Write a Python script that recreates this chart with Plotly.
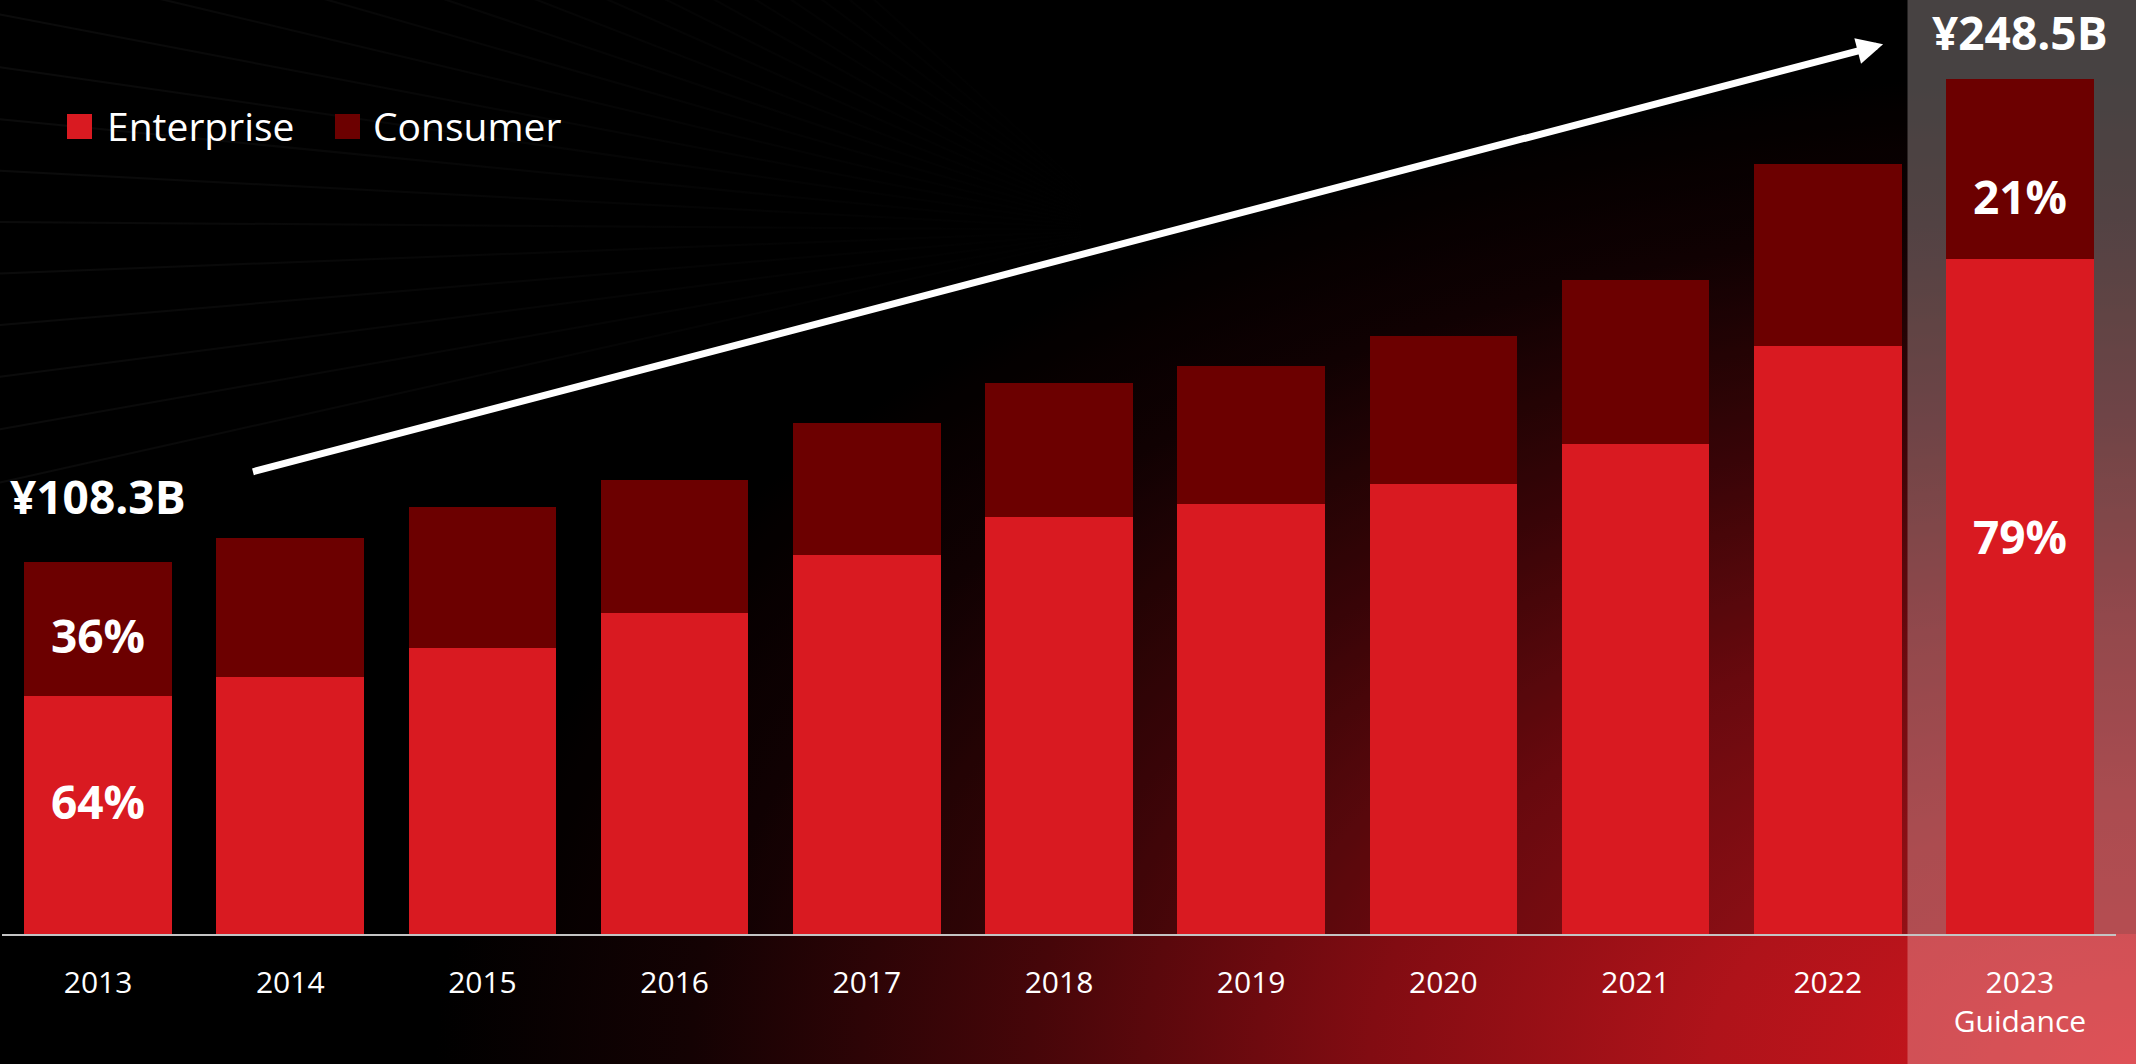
import base64
import math
import plotly.graph_objects as go

# ---------------- data ----------------
years = ["2013", "2014", "2015", "2016", "2017", "2018", "2019", "2020", "2021", "2022", "2023"]
tick_text = ["2013", "2014", "2015", "2016", "2017", "2018", "2019", "2020", "2021", "2022", "2023<br>Guidance"]
enterprise = [69.3, 74.7, 83.1, 93.3, 110.2, 121.3, 124.9, 131.0, 142.5, 171.0, 196.3]
consumer = [39.0, 40.4, 41.1, 38.7, 38.5, 38.9, 40.4, 43.0, 47.8, 52.8, 52.2]
total_labels = {"2013": "¥108.3B", "2023": "¥248.5B"}
share_labels = {"2013": ("64%", "36%"), "2023": ("79%", "21%")}
series_names = ["Enterprise", "Consumer"]

ENT_COLOR = "#d91a21"
CON_COLOR = "#6c0000"
FONT = "Open Sans, Noto Sans, DejaVu Sans, sans-serif"

W, H = 2136, 1064
ML, MR, MT, MB = 2, 20, 0, 130
PW, PH = W - ML - MR, H - MT - MB
Y_MAX = 271.6
BASE_PX = H - MB


def px_x(px):
    return (px - ML) / PW


def px_y(py):
    return (H - MB - py) / PH


# ---------------- background (decorative svg) ----------------
lines = []
vx, vy = 1130, 230
for i in range(22):
    ang = math.radians(-42 + i * 2.6)
    ex = vx - 1600 * math.cos(ang)
    ey = vy + 1600 * math.sin(ang)
    lines.append(f'<line x1="{vx}" y1="{vy}" x2="{ex:.1f}" y2="{ey:.1f}" stroke="url(#fade)" stroke-width="2"/>')

svg = f'''<svg xmlns="http://www.w3.org/2000/svg" width="{W}" height="{H}" viewBox="0 0 {W} {H}" preserveAspectRatio="none">
<defs>
<radialGradient id="glow" gradientUnits="userSpaceOnUse" cx="{W}" cy="{H}" r="1000"
 gradientTransform="translate({W} {H}) scale(1.7 1.0) translate(-{W} -{H})">
<stop offset="0" stop-color="#d2161e"/>
<stop offset="0.25" stop-color="#af131a"/>
<stop offset="0.45" stop-color="#820c12"/>
<stop offset="0.65" stop-color="#460609"/>
<stop offset="0.85" stop-color="#140203"/>
<stop offset="1" stop-color="#000000"/>
</radialGradient>
<linearGradient id="fade" gradientUnits="userSpaceOnUse" x1="0" y1="0" x2="{vx}" y2="0">
<stop offset="0" stop-color="#ffffff" stop-opacity="0.045"/>
<stop offset="1" stop-color="#ffffff" stop-opacity="0"/>
</linearGradient>
</defs>
<rect width="{W}" height="{H}" fill="#000000"/>
<rect width="{W}" height="{H}" fill="url(#glow)"/>
<rect width="{W}" height="{BASE_PX}" fill="#000000" fill-opacity="0.2"/>
{''.join(lines)}
</svg>'''
svg_uri = "data:image/svg+xml;base64," + base64.b64encode(svg.encode("utf-8")).decode("ascii")

# ---------------- figure ----------------
fig = go.Figure()
fig.add_trace(go.Bar(x=years, y=enterprise, name=series_names[0], marker=dict(color=ENT_COLOR, line=dict(width=0)),
                     hoverinfo="x+y+name"))
fig.add_trace(go.Bar(x=years, y=consumer, name=series_names[1], marker=dict(color=CON_COLOR, line=dict(width=0)),
                     hoverinfo="x+y+name"))

annotations = []
# total labels above first / last bars
for yr, txt in total_labels.items():
    i = years.index(yr)
    tot = enterprise[i] + consumer[i]
    annotations.append(dict(x=i, y=tot, xref="x", yref="y", text=f"<b>{txt}</b>", showarrow=False,
                            xanchor="center", yanchor="middle", yshift=66 if i == 0 else 47,
                            font=dict(family=FONT, size=46, color="white")))
# share labels inside segments
share_pos = {"2013": (0.56, 0.45), "2023": (0.59, 0.35)}
for yr, (ent_txt, con_txt) in share_labels.items():
    i = years.index(yr)
    fe, fc = share_pos[yr]
    annotations.append(dict(x=i, y=enterprise[i] * fe, xref="x", yref="y", text=f"<b>{ent_txt}</b>",
                            showarrow=False, xanchor="center", yanchor="middle",
                            font=dict(family=FONT, size=46, color="white")))
    annotations.append(dict(x=i, y=enterprise[i] + consumer[i] * fc, xref="x", yref="y", text=f"<b>{con_txt}</b>",
                            showarrow=False, xanchor="center", yanchor="middle",
                            font=dict(family=FONT, size=46, color="white")))

# growth arrow
annotations.append(dict(x=9.288, y=258.7, ax=0.798, ay=134.3, xref="x", yref="y", axref="x", ayref="y",
                        text="", showarrow=True, arrowhead=2, arrowsize=0.75, arrowwidth=7, arrowcolor="white",
                        standoff=0, startstandoff=0))

# manual legend
legend_items = [(series_names[0], ENT_COLOR, 67, 105), (series_names[1], CON_COLOR, 335, 371)]
shapes = []
for name, col, sq_x, tx in legend_items:
    shapes.append(dict(type="rect", xref="paper", yref="paper", x0=px_x(sq_x), x1=px_x(sq_x + 25),
                       y0=px_y(139), y1=px_y(114), fillcolor=col, line=dict(width=0), layer="above"))
    annotations.append(dict(x=px_x(tx), y=px_y(125), xref="paper", yref="paper", text=name, showarrow=False,
                            xanchor="left", yanchor="middle", font=dict(family=FONT, size=39, color="white")))

# highlighted guidance band
shapes.append(dict(type="rect", xref="paper", yref="paper", x0=px_x(1907.5), x1=px_x(W + 2),
                   y0=px_y(H + 2), y1=px_y(-2), fillcolor="rgba(255,236,236,0.28)", line=dict(width=0),
                   layer="below"))

fig.update_layout(
    width=W, height=H,
    margin=dict(l=ML, r=MR, t=MT, b=MB, pad=0),
    paper_bgcolor="#000000",
    plot_bgcolor="rgba(0,0,0,0)",
    barmode="stack",
    bargap=0.232,
    showlegend=False,
    font=dict(family=FONT, color="white"),
    images=[dict(source=svg_uri, xref="paper", yref="paper", x=px_x(0), y=px_y(0),
                 sizex=W / PW, sizey=H / PH, xanchor="left", yanchor="top", sizing="stretch",
                 layer="below")],
    shapes=shapes,
    annotations=annotations,
    xaxis=dict(type="category", categoryorder="array", categoryarray=years, range=[-0.5, 10.5],
               tickvals=years, ticktext=tick_text, showgrid=False, zeroline=False,
               showline=True, linecolor="#c4c4c4", linewidth=2,
               ticks="outside", ticklen=21, tickcolor="rgba(0,0,0,0)",
               tickfont=dict(family=FONT, size=30, color="white"), automargin=False, fixedrange=True),
    yaxis=dict(range=[0, Y_MAX], visible=False, showgrid=False, zeroline=False, fixedrange=True),
)

fig.write_html("out.html", config={"displayModeBar": False},
               post_script="document.body.style.margin='0';document.body.style.overflow='hidden';")
